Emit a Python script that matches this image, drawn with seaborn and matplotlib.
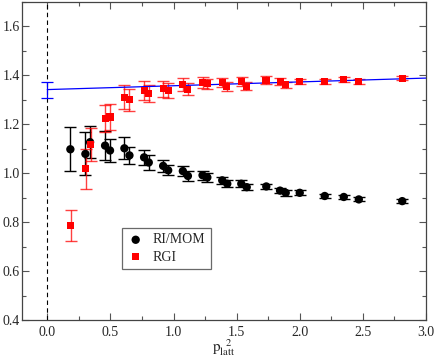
import matplotlib
matplotlib.use('Agg')
import matplotlib.pyplot as plt
import matplotlib.ticker as ticker
import pandas as pd
import seaborn as sns

# RI/MOM points
x_mom = [0.183, 0.302, 0.339, 0.458, 0.497, 0.611, 0.651, 0.767, 0.804, 0.918, 0.958, 1.074, 1.114,
         1.230, 1.268, 1.386, 1.426, 1.537, 1.580, 1.735, 1.844, 1.889, 2.000, 2.198, 2.349, 2.468, 2.812]
y_mom = [1.098, 1.079, 1.127, 1.113, 1.093, 1.102, 1.073, 1.065, 1.044, 1.030, 1.012, 1.009, 0.989,
         0.992, 0.983, 0.971, 0.957, 0.957, 0.943, 0.946, 0.929, 0.920, 0.920, 0.907, 0.903, 0.893, 0.886]
err_mom = [0.090, 0.088, 0.066, 0.058, 0.048, 0.045, 0.035, 0.030, 0.030, 0.025, 0.020, 0.020, 0.020,
           0.018, 0.017, 0.015, 0.015, 0.014, 0.013, 0.012, 0.011, 0.011, 0.010, 0.009, 0.009, 0.008, 0.007]

# RGI points
x_rgi = [0.185, 0.304, 0.344, 0.458, 0.497, 0.611, 0.651, 0.767, 0.804, 0.918, 0.958, 1.074, 1.114,
         1.232, 1.266, 1.386, 1.423, 1.540, 1.577, 1.733, 1.844, 1.889, 2.000, 2.198, 2.349, 2.468, 2.812]
y_rgi = [0.785, 1.018, 1.118, 1.223, 1.230, 1.311, 1.300, 1.339, 1.325, 1.346, 1.338, 1.363, 1.343,
         1.370, 1.366, 1.371, 1.356, 1.375, 1.356, 1.381, 1.374, 1.362, 1.375, 1.375, 1.382, 1.374, 1.388]
err_rgi = [0.063, 0.083, 0.068, 0.055, 0.055, 0.050, 0.045, 0.040, 0.035, 0.033, 0.030, 0.028, 0.025,
           0.022, 0.020, 0.020, 0.018, 0.018, 0.016, 0.015, 0.014, 0.013, 0.012, 0.011, 0.010, 0.010, 0.008]

# linear fit of RGI and its extrapolated value at p^2 = 0
fit_x = [0.0, 3.0]
fit_y = [1.342, 1.389]
fit_err = 0.033

sns.set_style('ticks')
plt.rcParams['font.family'] = ['Liberation Serif', 'DejaVu Serif']
plt.rcParams['mathtext.fontset'] = 'stix'

fig = plt.figure(figsize=(4.36, 3.59), dpi=100)
ax = fig.add_axes([0.0505, 0.1086, 0.9265, 0.8858])

mom = pd.DataFrame({'x': x_mom, 'y': y_mom})
rgi = pd.DataFrame({'x': x_rgi, 'y': y_rgi})
fit = pd.DataFrame({'x': fit_x, 'y': fit_y})

ax.axvline(0, color='black', ls=(0, (4, 3)), lw=0.8, zorder=1)

# error bars
ax.errorbar(x_mom, y_mom, yerr=err_mom, fmt='none', ecolor='black', elinewidth=1.0,
            capsize=4, capthick=1.0, zorder=2)
ax.errorbar(x_rgi, y_rgi, yerr=err_rgi, fmt='none', ecolor='red', elinewidth=1.0,
            capsize=4, capthick=1.0, alpha=0.75, zorder=3)
ax.errorbar([fit_x[0]], [fit_y[0]], yerr=fit_err, fmt='none', ecolor='blue', elinewidth=0.9,
            capsize=4, capthick=0.9, zorder=3)

sns.lineplot(data=fit, x='x', y='y', color='blue', lw=0.9, ax=ax, zorder=4)

sns.scatterplot(data=mom, x='x', y='y', color='black', marker='o', s=36, edgecolor='none',
                label='RI/MOM', ax=ax, zorder=5)
sns.scatterplot(data=rgi, x='x', y='y', color='red', marker='s', s=26, edgecolor='none',
                label='RGI', ax=ax, zorder=6)

ax.set_xlim(-0.2, 3.0)
ax.set_ylim(0.4, 1.7)
ax.xaxis.set_major_locator(ticker.MultipleLocator(0.5))
ax.xaxis.set_minor_locator(ticker.MultipleLocator(0.25))
ax.yaxis.set_major_locator(ticker.MultipleLocator(0.2))
ax.yaxis.set_minor_locator(ticker.MultipleLocator(0.1))
ax.xaxis.set_major_formatter(ticker.FormatStrFormatter('%.1f'))
ax.yaxis.set_major_formatter(ticker.FormatStrFormatter('%.1f'))
ax.tick_params(which='both', direction='in', top=True, right=True, labelsize=10,
               color='#555555')
ax.tick_params(axis='x', which='major', pad=4)
ax.tick_params(axis='y', which='major', pad=1.5)
ax.tick_params(which='major', length=5, width=0.8)
ax.tick_params(which='minor', length=3, width=0.8)
for s in ax.spines.values():
    s.set_color('#444444')
    s.set_linewidth(0.9)

ax.set_xlabel(r'$\mathrm{p}_{\mathrm{latt}}^{\ \ 2}$', fontsize=11, labelpad=-1)
ax.set_ylabel('')

leg = ax.legend(loc='lower left', bbox_to_anchor=(0.247, 0.16), frameon=True, fancybox=False,
                fontsize=10, handletextpad=0.6, borderpad=0.4, labelspacing=0.3,
                handlelength=1.2, borderaxespad=0)
leg.get_frame().set_edgecolor('#444444')
leg.get_frame().set_linewidth(0.9)

fig.savefig('out.png', dpi=100)
